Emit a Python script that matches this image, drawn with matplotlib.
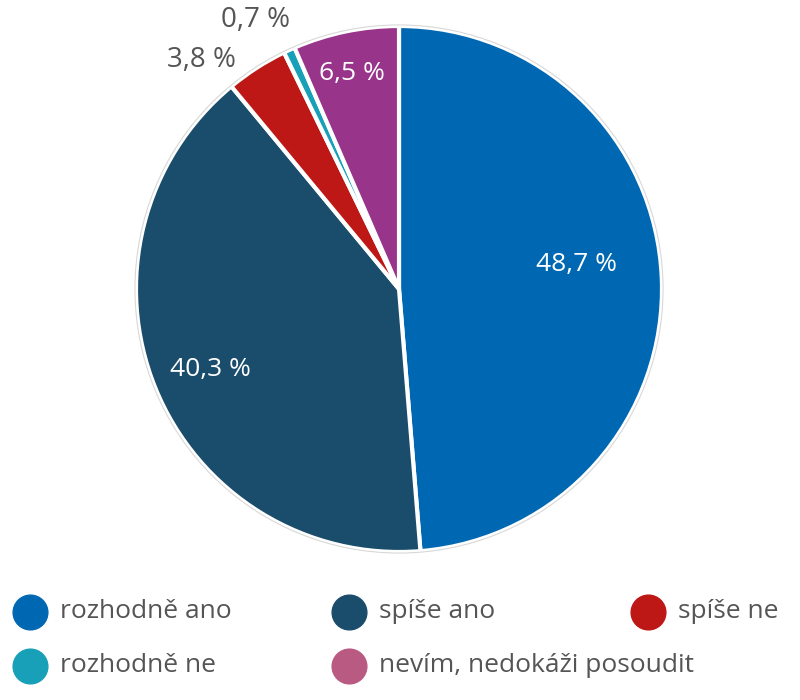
import matplotlib
matplotlib.use("Agg")
import matplotlib.pyplot as plt
import numpy as np
from matplotlib.lines import Line2D

plt.rcParams['font.family'] = ['Open Sans', 'DejaVu Sans']

categories = ['rozhodně ano', 'spíše ano', 'spíše ne', 'rozhodně ne', 'nevím, nedokáži posoudit']
values = [48.7, 40.3, 3.8, 0.7, 6.5]
labels = ['48,7 %', '40,3 %', '3,8 %', '0,7 %', '6,5 %']
slice_colors = ['#0068b3', '#1a4c6c', '#bd1716', '#17a0b7', '#99348b']
legend_colors = ['#0068b3', '#1a4c6c', '#bd1716', '#17a0b7', '#b95a82']

fig = plt.figure(figsize=(8, 7), dpi=100)
ax = fig.add_axes([0.17, 1 - 552 / 700, 526 / 800, 526 / 700])
wedges, _ = ax.pie(values, colors=slice_colors, startangle=90, counterclock=False,
                   radius=1.0, wedgeprops=dict(edgecolor='white', linewidth=3, clip_on=False))
circ = plt.Circle((0, 0), 1.004, fill=False, edgecolor='#d8d8d8', linewidth=0.8, clip_on=False)
ax.add_patch(circ)
ax.set_xlim(-1.0, 1.0)
ax.set_ylim(-1.0, 1.0)
ax.set_aspect('equal')
ax.axis('off')

# label placement: (distance, angle offset in deg, inside?)
place = [(0.68, 5.5, True), (0.78, 1.0, True), (1.15, 8.0, False), (1.16, 3.5, False), (0.84, 0.5, True)]
cum = 0.0
for v, lab, (d, off, inside) in zip(values, labels, place):
    mid = 90 - (cum + v / 2) * 3.6 + off
    cum += v
    x = d * np.cos(np.radians(mid))
    y = d * np.sin(np.radians(mid))
    ax.text(x, y, lab, ha='center', va='center', fontsize=19 if inside else 20,
            color='white' if inside else '#555555', clip_on=False)

# legend
xs = [30, 349, 648]
rows = [612, 666]
order = [(0, 0, 0), (1, 1, 0), (2, 2, 0), (3, 0, 1), (4, 1, 1)]
for i, col, row in order:
    fx = xs[col] / 800
    fy = 1 - rows[row] / 700
    fig.add_artist(Line2D([fx], [fy], marker='o', linestyle='', markersize=25,
                          markerfacecolor=legend_colors[i], markeredgecolor=legend_colors[i],
                          transform=fig.transFigure))
    fig.text(fx + 30 / 800, fy, categories[i], ha='left', va='center',
             fontsize=19, color='#555555')

fig.savefig('out.png', dpi=100, facecolor='white')
